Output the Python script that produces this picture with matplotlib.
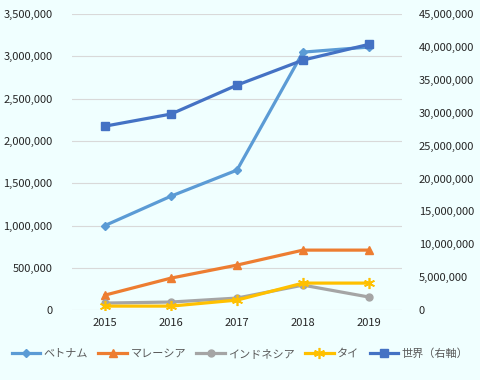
import matplotlib.pyplot as plt
import matplotlib.ticker as ticker

plt.rcParams["font.family"] = ["Noto Sans CJK JP", "DejaVu Sans"]
plt.rcParams["font.size"] = 8

years = [2015, 2016, 2017, 2018, 2019]
vietnam = [1000000, 1347000, 1655000, 3050000, 3110000]
malaysia = [177000, 378000, 532000, 709000, 709000]
indonesia = [83000, 95000, 142000, 295000, 154000]
thai = [47000, 47000, 118000, 319000, 319000]
world = [27960000, 29800000, 34200000, 38000000, 40400000]  # 右軸

bg = "#F0FFFF"
fig = plt.figure(figsize=(4.8, 3.8), dpi=100, facecolor=bg)
ax = fig.add_axes([0.15, 0.184, 0.6875, 0.779])
ax.set_facecolor(bg)
ax2 = ax.twinx()

lw = 2.3
l1, = ax.plot(years, vietnam, color="#5B9BD5", lw=lw, marker="D", ms=4, label="ベトナム")
l2, = ax.plot(years, malaysia, color="#ED7D31", lw=lw, marker="^", ms=6, label="マレーシア")
l3, = ax.plot(years, indonesia, color="#A5A5A5", lw=lw, marker="o", ms=5, label="インドネシア")
l4, = ax.plot(years, thai, color="#FFC000", lw=lw, marker=(6, 2, 0), ms=8, mew=1.2, label="タイ")
l5, = ax2.plot(years, world, color="#4472C4", lw=lw, marker="s", ms=6, label="世界（右軸）")

ax.set_xlim(2014.5, 2019.5)
ax.set_ylim(0, 3500000)
ax2.set_ylim(0, 45000000)
ax.set_xticks(years)
ax.set_yticks(range(0, 3500001, 500000))
ax2.set_yticks(range(0, 45000001, 5000000))
fmt = ticker.FuncFormatter(lambda v, p: f"{int(v):,}")
ax.yaxis.set_major_formatter(fmt)
ax2.yaxis.set_major_formatter(fmt)

ax.grid(axis="y", color="#D9D9D9", lw=0.8)
ax.set_axisbelow(True)
for a in (ax, ax2):
    for s in a.spines.values():
        s.set_visible(False)
    a.tick_params(length=0, colors="#262626", labelsize=8)
ax.tick_params(axis="y", pad=14)
ax.tick_params(axis="x", pad=6)
ax2.tick_params(axis="y", pad=12)

fig.legend(handles=[l1, l2, l3, l4, l5], loc="center", bbox_to_anchor=(0.5, 0.07),
           ncol=5, frameon=False, fontsize=8, handlelength=2.6, columnspacing=0.9,
           handletextpad=0.3, labelcolor="#595959")

fig.savefig("out.png", dpi=100, facecolor=bg)
